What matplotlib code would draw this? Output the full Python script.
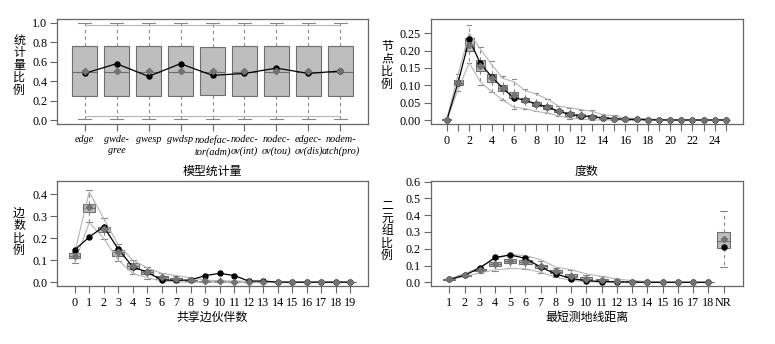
import matplotlib
matplotlib.use("Agg")
import matplotlib.pyplot as plt
import numpy as np

# ---------------- data ----------------
# Panel 1: model statistics
stat_labels = ["edge", "gwde-\ngree", "gwesp", "gwdsp", "nodefac-\ntor(adm)",
               "nodec-\nov(int)", "nodec-\nov(tou)", "edgec-\nov(dis)", "nodem-\natch(pro)"]
stat_obs = [0.48, 0.58, 0.45, 0.58, 0.46, 0.48, 0.535, 0.48, 0.505]
stat_q1 = [0.25, 0.25, 0.25, 0.25, 0.26, 0.25, 0.245, 0.25, 0.25]
stat_med = [0.50] * 9
stat_q3 = [0.76, 0.76, 0.76, 0.76, 0.75, 0.76, 0.76, 0.76, 0.76]
stat_wlo = [0.01] * 9
stat_whi = [1.00] * 9
stat_mean = [0.505] * 9
stat_lo = [0.038] * 9
stat_hi = [0.98] * 9

# Panel 2: degree
deg_vals = list(range(26))
deg_ticklabels = [str(d) if d % 2 == 0 else "" for d in deg_vals]
deg_obs = [0.0, 0.108, 0.232, 0.163, 0.125, 0.092, 0.063, 0.058, 0.045, 0.038, 0.025, 0.016, 0.012,
           0.010, 0.006, 0.004, 0.002, 0.002, 0.001, 0.0, 0.0, 0.0, 0.0, 0.0, 0.0, 0.0]
deg_q1 = [0.0, 0.100, 0.200, 0.140, 0.110, 0.085, 0.062, 0.052, 0.040, 0.032, 0.022, 0.012, 0.008,
          0.005, 0.003, 0.002, 0.001, 0.0, 0.0, 0.0, 0.0, 0.0, 0.0, 0.0, 0.0, 0.0]
deg_med = [0.0, 0.107, 0.215, 0.155, 0.120, 0.093, 0.072, 0.058, 0.046, 0.038, 0.026, 0.017, 0.013,
           0.009, 0.006, 0.004, 0.002, 0.001, 0.001, 0.0, 0.0, 0.0, 0.0, 0.0, 0.0, 0.0]
deg_q3 = [0.002, 0.115, 0.235, 0.172, 0.132, 0.100, 0.082, 0.064, 0.053, 0.044, 0.030, 0.022, 0.018,
          0.013, 0.009, 0.006, 0.003, 0.002, 0.001, 0.001, 0.0, 0.0, 0.0, 0.0, 0.0, 0.0]
deg_wlo = [0.0, 0.085, 0.165, 0.100, 0.082, 0.057, 0.033, 0.033, 0.025, 0.020, 0.012, 0.004, 0.002,
           0.0, 0.0, 0.0, 0.0, 0.0, 0.0, 0.0, 0.0, 0.0, 0.0, 0.0, 0.0, 0.0]
deg_whi = [0.004, 0.133, 0.275, 0.210, 0.170, 0.128, 0.118, 0.088, 0.078, 0.060, 0.040, 0.035, 0.030,
           0.030, 0.018, 0.013, 0.006, 0.004, 0.003, 0.002, 0.001, 0.0, 0.0, 0.0, 0.0, 0.0]
deg_mean = [0.001, 0.108, 0.215, 0.155, 0.120, 0.092, 0.072, 0.058, 0.046, 0.038, 0.026, 0.017, 0.013,
            0.009, 0.006, 0.004, 0.002, 0.002, 0.001, 0.0, 0.0, 0.0, 0.0, 0.0, 0.0, 0.0]
deg_lo = [0.0, 0.088, 0.165, 0.110, 0.082, 0.058, 0.037, 0.033, 0.025, 0.020, 0.012, 0.005, 0.003,
          0.0, 0.0, 0.0, 0.0, 0.0, 0.0, 0.0, 0.0, 0.0, 0.0, 0.0, 0.0, 0.0]
deg_hi = [0.003, 0.130, 0.250, 0.205, 0.160, 0.120, 0.110, 0.085, 0.075, 0.060, 0.040, 0.035, 0.030,
          0.025, 0.015, 0.012, 0.005, 0.004, 0.003, 0.002, 0.001, 0.0, 0.0, 0.0, 0.0, 0.0]

# Panel 3: edgewise shared partners
esp_vals = list(range(20))
esp_obs = [0.147, 0.205, 0.253, 0.150, 0.070, 0.045, 0.010, 0.008, 0.010, 0.030, 0.040, 0.030,
           0.005, 0.005, 0.0, 0.0, 0.0, 0.0, 0.0, 0.0]
esp_q1 = [0.109, 0.317, 0.227, 0.121, 0.062, 0.035, 0.015, 0.008, 0.005, 0.002, 0.001, 0.0,
          0.0, 0.0, 0.0, 0.0, 0.0, 0.0, 0.0, 0.0]
esp_med = [0.120, 0.336, 0.240, 0.135, 0.075, 0.045, 0.023, 0.012, 0.008, 0.004, 0.003, 0.002,
           0.001, 0.0, 0.0, 0.0, 0.0, 0.0, 0.0, 0.0]
esp_q3 = [0.132, 0.355, 0.253, 0.147, 0.085, 0.055, 0.030, 0.018, 0.012, 0.006, 0.004, 0.003,
          0.002, 0.001, 0.0, 0.0, 0.0, 0.0, 0.0, 0.0]
esp_wlo = [0.085, 0.273, 0.197, 0.097, 0.035, 0.015, 0.005, 0.0, 0.0, 0.0, 0.0, 0.0,
           0.0, 0.0, 0.0, 0.0, 0.0, 0.0, 0.0, 0.0]
esp_whi = [0.135, 0.418, 0.290, 0.175, 0.100, 0.070, 0.040, 0.030, 0.020, 0.012, 0.006, 0.005,
           0.004, 0.002, 0.001, 0.0, 0.0, 0.0, 0.0, 0.0]
esp_mean = [0.120, 0.340, 0.240, 0.135, 0.075, 0.045, 0.023, 0.013, 0.008, 0.004, 0.003, 0.002,
            0.002, 0.001, 0.0, 0.0, 0.0, 0.0, 0.0, 0.0]
esp_lo = [0.090, 0.270, 0.200, 0.100, 0.040, 0.020, 0.005, 0.0, 0.0, 0.0, 0.0, 0.0,
          0.0, 0.0, 0.0, 0.0, 0.0, 0.0, 0.0, 0.0]
esp_hi = [0.135, 0.410, 0.290, 0.170, 0.100, 0.065, 0.040, 0.030, 0.020, 0.010, 0.006, 0.005,
          0.004, 0.002, 0.001, 0.0, 0.0, 0.0, 0.0, 0.0]

# Panel 4: minimum geodesic distance
geo_labels = [str(i) for i in range(1, 19)] + ["NR"]
geo_obs = [0.017, 0.042, 0.085, 0.148, 0.163, 0.143, 0.090, 0.050, 0.022, 0.010, 0.004, 0.003,
           0.001, 0.0, 0.0, 0.0, 0.0, 0.0, 0.212]
geo_q1 = [0.015, 0.040, 0.068, 0.099, 0.118, 0.110, 0.085, 0.055, 0.032, 0.015, 0.008, 0.004,
          0.001, 0.0, 0.0, 0.0, 0.0, 0.0, 0.206]
geo_med = [0.017, 0.043, 0.074, 0.110, 0.130, 0.122, 0.095, 0.064, 0.040, 0.022, 0.012, 0.007,
           0.003, 0.001, 0.0, 0.0, 0.0, 0.0, 0.246]
geo_q3 = [0.019, 0.046, 0.080, 0.119, 0.140, 0.135, 0.105, 0.072, 0.050, 0.030, 0.018, 0.010,
          0.005, 0.002, 0.001, 0.0, 0.0, 0.0, 0.298]
geo_wlo = [0.012, 0.035, 0.055, 0.070, 0.085, 0.080, 0.055, 0.030, 0.012, 0.005, 0.0, 0.0,
           0.0, 0.0, 0.0, 0.0, 0.0, 0.0, 0.089]
geo_whi = [0.021, 0.050, 0.090, 0.140, 0.170, 0.150, 0.130, 0.085, 0.075, 0.045, 0.035, 0.020,
           0.010, 0.005, 0.002, 0.0, 0.0, 0.0, 0.425]
geo_mean = [0.017, 0.043, 0.074, 0.110, 0.130, 0.122, 0.095, 0.065, 0.040, 0.022, 0.012, 0.007,
            0.003, 0.001, 0.0, 0.0, 0.0, 0.0, 0.260]
geo_lo = [0.015, 0.035, 0.055, 0.075, 0.082, 0.080, 0.060, 0.030, 0.012, 0.004, 0.0, 0.0,
          0.0, 0.0, 0.0, 0.0, 0.0, 0.0]
geo_hi = [0.020, 0.050, 0.090, 0.140, 0.165, 0.160, 0.135, 0.090, 0.075, 0.050, 0.035, 0.020,
          0.010, 0.005, 0.002, 0.0, 0.0, 0.0]

# ---------------- style ----------------
plt.rcParams["font.family"] = ["Liberation Serif", "Noto Sans CJK SC", "DejaVu Sans"]
CJK = ["Noto Sans CJK SC", "DejaVu Sans"]
TICK_FS = 8.7
LAB_FS = 8.6
FRAME = "#666666"
BOX_FACE = "#BEBEBE"
BOX_EDGE = "#6E6E6E"
QLINE = "#B5B5B5"
MEANC = "#737373"

fig = plt.figure(figsize=(7.75, 3.44), dpi=100)
W, H = 775.0, 344.0


def add_axes(left, top, right, bottom):
    return fig.add_axes([left / W, 1 - bottom / H, (right - left) / W, (bottom - top) / H])


def draw_panel(ax, pos, q1, med, q3, wlo, whi, mean, obs, lo, hi, lo_pos, obs_pos):
    stats = []
    for i in range(len(pos)):
        stats.append(dict(q1=q1[i], med=med[i], q3=q3[i], whislo=wlo[i], whishi=whi[i], fliers=[]))
    ax.bxp(stats, positions=pos, widths=0.8, patch_artist=True, showfliers=False,
           manage_ticks=False,
           boxprops=dict(facecolor=BOX_FACE, edgecolor=BOX_EDGE, linewidth=0.8),
           medianprops=dict(color=BOX_EDGE, linewidth=0.8),
           whiskerprops=dict(color="#888888", linewidth=0.8, linestyle=(0, (3, 3))),
           capprops=dict(color="#888888", linewidth=0.8),
           capwidths=0.4)
    ax.plot(lo_pos, lo, color=QLINE, lw=0.8, zorder=3)
    ax.plot(lo_pos, hi, color=QLINE, lw=0.8, zorder=3)
    ax.plot(obs_pos, obs[:len(obs_pos)], color="black", lw=0.9, zorder=4)
    ax.plot(pos, obs, linestyle="none", marker="o", ms=3.6, color="black", zorder=5)
    ax.plot(pos, mean, linestyle="none", marker="D", ms=3.2, color=MEANC, zorder=6)


def style_axes(ax):
    for s in ax.spines.values():
        s.set_color(FRAME)
        s.set_linewidth(0.9)
    ax.tick_params(axis="both", direction="out", length=5, width=0.8, color=FRAME,
                   labelsize=TICK_FS, pad=2)
    ax.tick_params(axis="x", pad=3)


def ylab(ax, text, x, y):
    ax.text(x, y, "\n".join(list(text)), transform=ax.transAxes, ha="center", va="center",
            fontsize=LAB_FS, family=CJK, linespacing=0.95)


def xlab(ax, text, y):
    ax.text(0.5, y, text, transform=ax.transAxes, ha="center", va="center",
            fontsize=LAB_FS, family=CJK)


# Panel 1
ax1 = add_axes(57, 19, 368, 124)
p1 = np.arange(1, len(stat_labels) + 1)
draw_panel(ax1, p1, stat_q1, stat_med, stat_q3, stat_wlo, stat_whi, stat_mean, stat_obs,
           stat_lo, stat_hi, p1, p1)
ax1.set_xlim(0.14, 9.86)
ax1.set_ylim(-0.04, 1.04)
ax1.set_yticks([0.0, 0.2, 0.4, 0.6, 0.8, 1.0])
ax1.set_yticklabels(["0.0", "0.2", "0.4", "0.6", "0.8", "1.0"])
ax1.set_xticks(p1)
style_axes(ax1)
ax1.set_xticklabels(stat_labels, style="italic", fontsize=7.3, linespacing=1.3)
ax1.tick_params(axis="x", pad=3)
ylab(ax1, "统计量比例", -0.122, 0.56)
xlab(ax1, "模型统计量", -0.45)

# Panel 2
ax2 = add_axes(430.7, 19, 742.7, 124)
p2 = np.array(deg_vals)
draw_panel(ax2, p2, deg_q1, deg_med, deg_q3, deg_wlo, deg_whi, deg_mean, deg_obs,
           deg_lo, deg_hi, p2, p2)
ax2.set_xlim(-1.45, 26.5)
ax2.set_ylim(-0.0115, 0.291)
ax2.set_yticks([0.0, 0.05, 0.10, 0.15, 0.20, 0.25])
ax2.set_yticklabels(["0.00", "0.05", "0.10", "0.15", "0.20", "0.25"])
ax2.set_xticks(p2)
ax2.set_xticklabels(deg_ticklabels)
style_axes(ax2)
ylab(ax2, "节点比例", -0.14, 0.56)
xlab(ax2, "度数", -0.45)

# Panel 3
ax3 = add_axes(57, 181, 368, 286)
p3 = np.array(esp_vals)
draw_panel(ax3, p3, esp_q1, esp_med, esp_q3, esp_wlo, esp_whi, esp_mean, esp_obs,
           esp_lo, esp_hi, p3, p3)
ax3.set_xlim(-1.22, 20.22)
ax3.set_ylim(-0.0175, 0.46)
ax3.set_yticks([0.0, 0.1, 0.2, 0.3, 0.4])
ax3.set_yticklabels(["0.0", "0.1", "0.2", "0.3", "0.4"])
ax3.set_xticks(p3)
ax3.set_xticklabels([str(v) for v in esp_vals])
style_axes(ax3)
ylab(ax3, "边数比例", -0.122, 0.515)
xlab(ax3, "共享边伙伴数", -0.30)

# Panel 4
ax4 = add_axes(430.7, 181, 742.7, 286)
p4 = np.arange(1, len(geo_labels) + 1)
draw_panel(ax4, p4, geo_q1, geo_med, geo_q3, geo_wlo, geo_whi, geo_mean, geo_obs,
           geo_lo, geo_hi, p4[:len(geo_lo)], p4[:len(geo_lo)])
ax4.set_xlim(-0.22, 20.26)
ax4.set_ylim(-0.022, 0.604)
ax4.set_yticks([0.0, 0.1, 0.2, 0.3, 0.4, 0.5, 0.6])
ax4.set_yticklabels(["0.0", "0.1", "0.2", "0.3", "0.4", "0.5", "0.6"])
ax4.set_xticks(p4)
ax4.set_xticklabels(geo_labels)
style_axes(ax4)
ylab(ax4, "二元组比例", -0.14, 0.53)
xlab(ax4, "最短测地线距离", -0.30)

fig.savefig("out.png", dpi=100, facecolor="white")
